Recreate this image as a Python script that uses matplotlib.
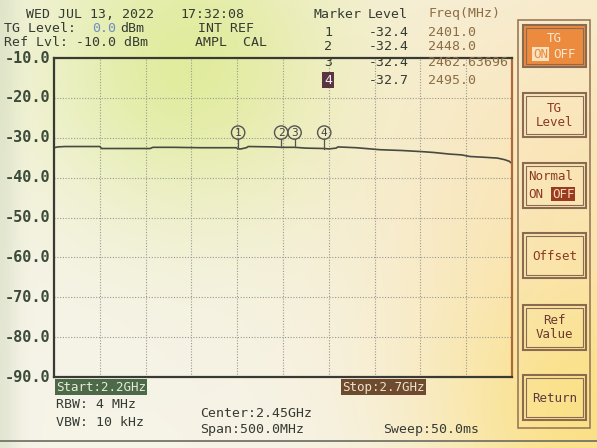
import matplotlib
matplotlib.use("Agg")
import matplotlib.pyplot as plt
from matplotlib.patches import Rectangle
import numpy as np

# trace (MHz, dBm)
freq_mhz = [2200, 2204, 2212, 2230, 2250, 2252, 2290, 2305, 2308, 2330, 2360,
            2399, 2401, 2404, 2410, 2412, 2440, 2448, 2455, 2462.6, 2475,
            2495, 2500, 2508, 2510, 2530, 2556, 2580, 2603, 2615, 2632, 2645,
            2654, 2670, 2684, 2692, 2697, 2700]
level_dbm = [-32.5, -32.3, -32.2, -32.2, -32.2, -32.7, -32.7, -32.7, -32.4, -32.4, -32.5,
             -32.5, -32.8, -32.8, -32.5, -32.2, -32.3, -32.4, -32.4, -32.4, -32.6,
             -32.7, -32.8, -32.6, -32.3, -32.5, -33.0, -33.2, -33.5, -33.7, -34.1, -34.3,
             -34.7, -34.9, -35.1, -35.5, -35.9, -36.5]

marker_ids = ["1", "2", "3", "4"]
marker_freq = [2401.0, 2448.0, 2462.63696, 2495.0]
marker_level = [-32.4, -32.4, -32.4, -32.7]
marker_freq_txt = ["2401.0", "2448.0", "2462.63696", "2495.0"]

y_ticks = [-10, -20, -30, -40, -50, -60, -70, -80, -90]

W, H = 597, 448
MONO = "DejaVu Sans Mono"
INK = "#353b33"


def fx(px):
    return px / W


def fy(py):
    return 1 - py / H


fig = plt.figure(figsize=(W / 100, H / 100), dpi=100)

# photo-like tinted background
bg = fig.add_axes([0, 0, 1, 1])
yy, xx = np.mgrid[0:H, 0:W]
img = np.ones((H, W, 3)) * np.array([0.965, 0.955, 0.91])


def tint(img, w, col):
    w = w[..., None]
    return img * (1 - w) + np.array(col) * w


def blob(cx, cy, r, amt):
    return np.exp(-(((xx - cx) ** 2 + (yy - cy) ** 2) / (2 * r ** 2))) * amt


img = tint(img, blob(190, 60, 110, 0.8), (0.86, 0.92, 0.55))
img = tint(img, blob(600, 180, 170, 0.6), (0.99, 0.86, 0.60))
img = tint(img, blob(590, 420, 110, 0.7), (0.99, 0.86, 0.40))
img = tint(img, np.exp(-xx ** 2 / (2 * 12 ** 2)) * 0.45, (0.80, 0.84, 0.72))
bg.imshow(np.clip(img, 0, 1), aspect="auto", extent=[0, W, H, 0])
bg.set_xlim(0, W)
bg.set_ylim(H, 0)
bg.axis("off")
bg.plot([0, W], [441, 441], color="#6a6a60", lw=1.2)

ax = fig.add_axes([fx(54), fy(377), fx(512) - fx(54), fy(58) - fy(377)])
ax.set_facecolor("none")
ax.plot(freq_mhz, level_dbm, color="#474a40", lw=1.2)
ax.set_xlim(2200, 2700)
ax.set_ylim(-90, -10)
ax.set_xticks(np.linspace(2200, 2700, 11))
ax.set_yticks(y_ticks)
ax.grid(True, color="#9a9a92", ls=(0, (1, 1.5)), lw=0.8)
ax.tick_params(length=0, labelbottom=False, labelleft=False)
for s in ["left", "top", "bottom"]:
    ax.spines[s].set_color("#3a3a34")
    ax.spines[s].set_linewidth(1.6)
ax.spines["right"].set_color("#b0683a")
ax.spines["right"].set_linewidth(1.6)

for v in y_ticks:
    ax.text(-0.008, v, f"{v:.1f}", transform=ax.get_yaxis_transform(), ha="right",
            va="center", family=MONO, fontsize=11, fontweight="bold", color="#3c4a3a")

# markers
for mid, f, lv in zip(marker_ids, marker_freq, marker_level):
    ax.plot([f, f], [lv, -30.3], color="#555550", lw=0.9)
    ax.text(f, -28.7, mid, ha="center", va="center", family=MONO, fontsize=8,
            color="#444", bbox=dict(boxstyle="circle,pad=0.15", fc="none", ec="#555", lw=1.0))

# header
hdr = dict(family=MONO, fontsize=9.5, color=INK, va="center")
fig.text(fx(26), fy(14), "WED JUL 13, 2022", **hdr)
fig.text(fx(180), fy(14), "17:32:08", **hdr)
fig.text(fx(4), fy(29), "TG Level:", **hdr)
fig.text(fx(92), fy(29), "0.0", family=MONO, fontsize=9.5, color="#6c8fc0", va="center")
fig.text(fx(120), fy(29), "dBm", **hdr)
fig.text(fx(198), fy(29), "INT REF", **hdr)
fig.text(fx(4), fy(43), "Ref Lvl: -10.0 dBm", **hdr)
fig.text(fx(195), fy(43), "AMPL  CAL", **hdr)

# marker table
fig.text(fx(314), fy(14), "Marker", **hdr)
fig.text(fx(368), fy(14), "Level", **hdr)
fig.text(fx(428), fy(14), "Freq(MHz)", family=MONO, fontsize=9.5, color="#8c6e45", va="center")
row_y = [33, 47, 62, 80]
for i, (mid, lv, ft) in enumerate(zip(marker_ids, marker_level, marker_freq_txt)):
    if mid == "4":
        fig.text(fx(328), fy(row_y[i]), mid, family=MONO, fontsize=9.5, color="#eee", va="center",
                 ha="center", bbox=dict(boxstyle="square,pad=0.15", fc="#5a3440", ec="none"))
    else:
        fig.text(fx(328), fy(row_y[i]), mid, ha="center", **hdr)
    fig.text(fx(369), fy(row_y[i]), f"{lv:.1f}", **hdr)
    fig.text(fx(428), fy(row_y[i]), ft, family=MONO, fontsize=9.5, color="#8c6e45", va="center")

# footer
fig.text(fx(56), fy(387), "Start:2.2GHz", family=MONO, fontsize=9, color="#e8eadc", va="center",
         bbox=dict(boxstyle="square,pad=0.1", fc="#4d6a48", ec="none"))
fig.text(fx(342), fy(387), "Stop:2.7GHz", family=MONO, fontsize=9, color="#f0e4cc", va="center",
         bbox=dict(boxstyle="square,pad=0.1", fc="#6e4a2e", ec="none"))
fig.text(fx(56), fy(405), "RBW: 4 MHz", **hdr)
fig.text(fx(56), fy(422), "VBW: 10 kHz", **hdr)
fig.text(fx(200), fy(413), "Center:2.45GHz", **hdr)
fig.text(fx(200), fy(429), "Span:500.0MHz", **hdr)
fig.text(fx(383), fy(429), "Sweep:50.0ms", **hdr)

# soft-key panel
bg.add_patch(Rectangle((518, 20), 72, 408, fill=False, ec="#9a7a5a", lw=1.2))
buttons = [(25, 67, "TG\n"), (93, 137, "TG\nLevel"), (163, 208, "Normal\n"),
           (233, 278, "Offset"), (305, 350, "Ref\nValue"), (375, 420, "Return")]
for i, (y0, y1, lab) in enumerate(buttons):
    fc = "#ec8a3e" if i == 0 else "none"
    bg.add_patch(Rectangle((523, y0), 63, y1 - y0, fc=fc, ec="#8a6a50", lw=1.5))
    bg.add_patch(Rectangle((526, y0 + 3), 57, y1 - y0 - 6, fill=False, ec="#8a6a50", lw=0.8))
cx = 554.5
bg.text(cx, 38, "TG", ha="center", va="center", family=MONO, fontsize=9, color="#fbe8d0")
bg.text(cx - 14, 54, "ON", ha="center", va="center", family=MONO, fontsize=9, color="#ec8a3e",
        bbox=dict(boxstyle="square,pad=0.05", fc="#f7e2bf", ec="none"))
bg.text(cx + 10, 54, "OFF", ha="center", va="center", family=MONO, fontsize=9, color="#fbe8d0")
bg.text(cx, 115, "TG\nLevel", ha="center", va="center", family=MONO, fontsize=9,
        color="#8a3a22", linespacing=1.1)
bg.text(528, 177, "Normal", ha="left", va="center", family=MONO, fontsize=9, color="#8a3a22")
bg.text(528, 194, "ON", ha="left", va="center", family=MONO, fontsize=9, color="#8a3a22")
bg.text(552, 194, "OFF", ha="left", va="center", family=MONO, fontsize=9, color="#f6dcc0",
        bbox=dict(boxstyle="square,pad=0.05", fc="#9a3a1e", ec="none"))
bg.text(cx, 256, "Offset", ha="center", va="center", family=MONO, fontsize=9, color="#8a3a22")
bg.text(cx, 327, "Ref\nValue", ha="center", va="center", family=MONO, fontsize=9,
        color="#6a3a30", linespacing=1.1)
bg.text(cx, 398, "Return", ha="center", va="center", family=MONO, fontsize=9, color="#5a3a40")

fig.savefig("out.png", dpi=100)
